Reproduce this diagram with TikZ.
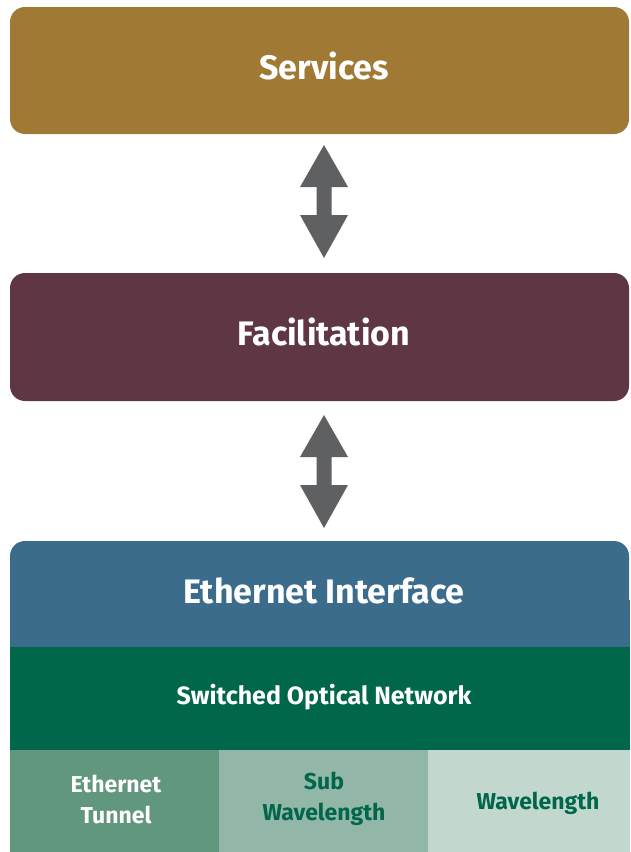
\documentclass[tikz,border=0pt]{standalone}
\usepackage{fontspec}
\setmainfont{Fira Sans}
\definecolor{servicesC}{HTML}{A07A34}
\definecolor{facilC}{HTML}{5E3644}
\definecolor{ethC}{HTML}{3B6C8C}
\definecolor{sonC}{HTML}{00674B}
\definecolor{tunnelC}{HTML}{62977F}
\definecolor{subC}{HTML}{92B7A8}
\definecolor{waveC}{HTML}{C2D8CE}
\definecolor{arrowC}{HTML}{5F6062}
\begin{document}
\begin{tikzpicture}[x=1pt,y=-1pt,
  layer/.style={font=\bfseries\fontsize{34}{38}\selectfont, text=white, inner sep=0pt},
  cell/.style={font=\bfseries\fontsize{23}{31}\selectfont, align=center, inner sep=0pt},
  dblarrow/.style={fill=arrowC}]
  \useasboundingbox (0,0) rectangle (630,852);

  % stacked layers
  \fill[servicesC, rounded corners=15pt] (10,7) rectangle (629,134);
  \fill[facilC, rounded corners=15pt] (10,273) rectangle (629,401);
  \fill[ethC, rounded corners=15pt] (10,541) rectangle (629,680);
  \fill[ethC] (10,600) rectangle (630,647);
  \fill[sonC] (10,647) rectangle (630,750);
  \fill[tunnelC] (10,750) rectangle (219,852);
  \fill[subC] (219,750) rectangle (428,852);
  \fill[waveC] (428,750) rectangle (630,852);

  % labels
  \node[layer] (services) at (324,66) {Services};
  \node[layer] (facil) at (324,332) {Facilitation};
  \node[layer] (eth) at (324,591) {Ethernet Interface};
  \node[layer, font=\bfseries\fontsize{25}{29}\selectfont] (son) at (324,697) {Switched Optical Network};
  \node[cell, text=white] (tunnel) at (116,799) {Ethernet\\Tunnel};
  \node[cell, text=sonC] (sub) at (324,799) {Sub\\Wavelength};
  \node[cell, text=sonC] (wave) at (538,803) {Wavelength};

  % double-headed block arrows between layers
  \foreach \t in {145,415}{
    \fill[dblarrow] (324,\t) -- (348,\t+42) -- (331.5,\t+42) -- (331.5,\t+70)
      -- (348,\t+70) -- (324,\t+113) -- (300,\t+70) -- (316.5,\t+70)
      -- (316.5,\t+42) -- (300,\t+42) -- cycle;
  }
\end{tikzpicture}
\end{document}
